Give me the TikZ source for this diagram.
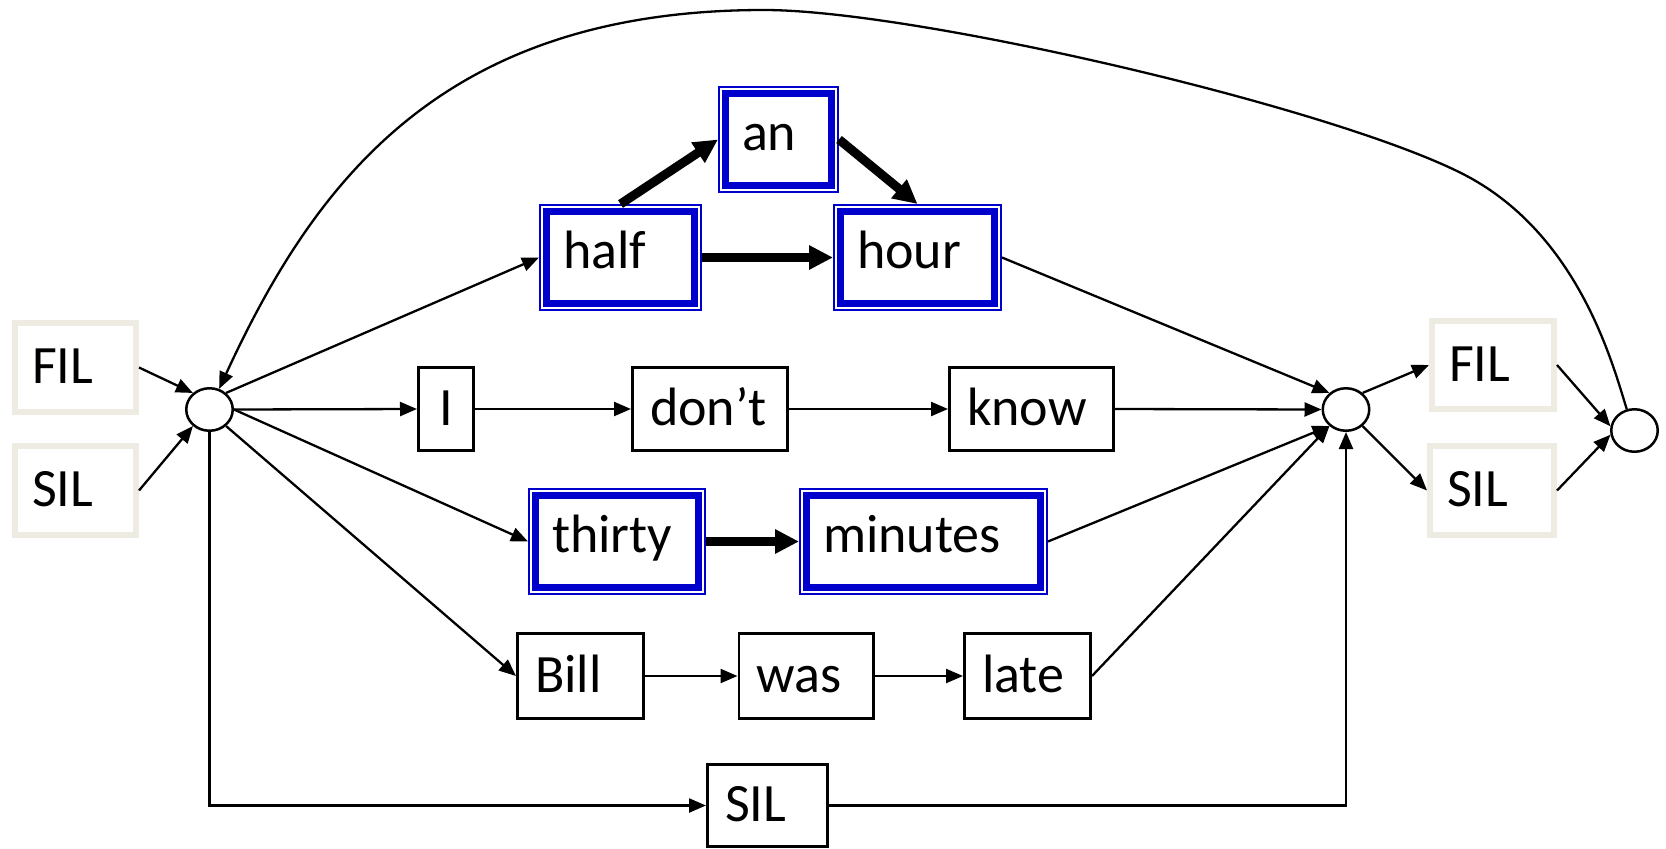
\documentclass[tikz,border=0pt]{standalone}
\usepackage{fontspec}
\setmainfont{Carlito}
\usetikzlibrary{arrows.meta,shapes.geometric}
\definecolor{bblue}{RGB}{0,0,204}
\definecolor{beige}{RGB}{238,236,226}
\begin{document}
\begin{tikzpicture}[x=1pt,y=-1pt,
  every node/.style={font=\fontsize{54}{64}\selectfont},
  beigebox/.style={draw=beige, line width=6pt, fill=white, inner xsep=17pt, inner ysep=0pt,
    text height=36pt, text depth=4pt, align=left},
  plainbox/.style={draw=black, line width=2.6pt, fill=white, inner xsep=17.7pt, inner ysep=0pt,
    text height=36pt, text depth=4pt, align=left},
  bluebox/.style={draw=bblue, line width=2pt, fill=white, inner xsep=23pt, inner ysep=0pt,
    text height=36pt, text depth=14pt, align=left, minimum height=105pt,
    path picture={\draw[bblue, line width=7pt]
      ([shift={(6.5pt,6.5pt)}]path picture bounding box.south west) rectangle
      ([shift={(-6.5pt,-6.5pt)}]path picture bounding box.north east);}},
  junc/.style={ellipse, draw=black, line width=2.5pt, fill=white, inner sep=0pt,
    minimum width=46.5pt, minimum height=42.5pt},
  ln/.style={line width=2.3pt, -{Triangle[length=17pt,width=14pt]}},
  tk/.style={line width=9pt, -{Triangle[length=24pt,width=23pt]}}
]
\useasboundingbox[fill=white] (0,0) rectangle (1666,849);

% nodes
\node[beigebox, text width=87pt, minimum height=89pt] (FILL) at (75.5,367.5) {FIL};
\node[beigebox, text width=87pt, minimum height=89pt] (SILL) at (75.5,490.5) {SIL};
\node[beigebox, text width=88pt, minimum height=88pt] (FILR) at (1493,365) {FIL};
\node[beigebox, text width=90pt, minimum height=89pt] (SILR) at (1492,490.5) {SIL};

\node[junc] (n1) at (209.5,409.5) {};
\node[junc] (n2) at (1346,409.5) {};
\node[junc] (n3) at (1634.5,430.5) {};

\node[plainbox, text width=20pt, align=center, minimum height=83.4pt] (I) at (446,409) {I};
\node[plainbox, text width=120pt, minimum height=83.4pt] (dont) at (710,409) {don’t};
\node[plainbox, text width=129pt, minimum height=83.4pt] (know) at (1031.5,409) {know};
\node[plainbox, text width=91pt, minimum height=85.4pt] (Bill) at (580.5,676) {Bill};
\node[plainbox, text width=99.5pt, minimum height=85.4pt] (was) at (806.25,676) {was};
\node[plainbox, text width=91pt, minimum height=85.4pt] (late) at (1027.5,676) {late};
\node[plainbox, text width=85pt, minimum height=82.4pt] (SILB) at (767.5,805.5) {SIL};

\node[bluebox, text width=115pt] (half) at (620.5,257.5) {half};
\node[bluebox, text width=73pt] (an) at (778.5,139.5) {an};
\node[bluebox, text width=121pt] (hour) at (917.5,257.5) {hour};
\node[bluebox, text width=130pt] (thirty) at (617,541.5) {thirty};
\node[bluebox, text width=201pt] (minutes) at (923.5,541.5) {minutes};

% connectors
\draw[ln] (FILL.east) -- (n1.135);
\draw[ln] (SILL.east) -- (n1.225);
\draw[ln] (n1.45) -- (half.west);
\draw[ln] (n1.east) -- (I.west);
\draw[ln] (I.east) -- (dont.west);
\draw[ln] (dont.east) -- (know.west);
\draw[ln] (know.east) -- (n2.west);
\draw[ln] (n1.east) -- (thirty.west);
\draw[ln] (n1.-45) -- (Bill.west);
\draw[ln] (n1.south) |- (SILB.west);
\draw[tk] (half.east) -- (hour.west);
\draw[tk] (half.north) -- (an.west);
\draw[tk] (an.east) -- (hour.north);
\draw[ln] (hour.east) -- (n2.135);
\draw[tk] (thirty.east) -- (minutes.west);
\draw[ln] (minutes.east) -- (n2.225);
\draw[ln] (Bill.east) -- (was.west);
\draw[ln] (was.east) -- (late.west);
\draw[ln] (late.east) -- (n2.225);
\draw[ln] (SILB.east) -| (n2.south);
\draw[ln] (n2.45) -- (FILR.west);
\draw[ln] (n2.-45) -- (SILR.west);
\draw[ln] (FILR.east) -- (n3.170);
\draw[ln] (SILR.east) -- (n3.190);
\coordinate (c1) at (1461,173);
\coordinate (c2) at (764,10);
\draw[ln] (n3.110) .. controls (1612,361.5) and (1577.2,231.1) .. (c1)
  .. controls (1326.9,105.95) and (914,10) .. (c2)
  .. controls (444,10) and (315.6,179.7) .. (n1.65);
\end{tikzpicture}
\end{document}
